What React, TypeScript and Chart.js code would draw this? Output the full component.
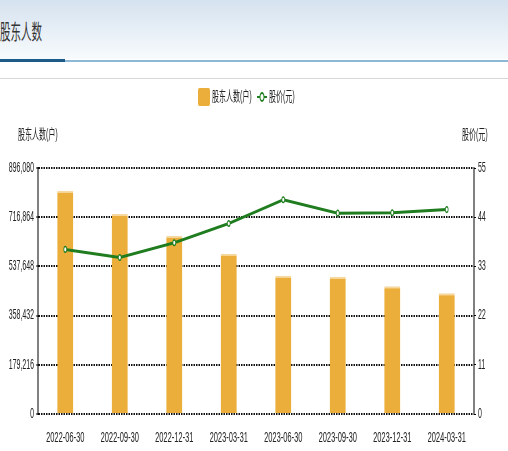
import React, { useEffect, useRef } from "react";
import { Chart, registerables } from "chart.js";

Chart.register(...registerables);

const categories = ["2022-06-30", "2022-09-30", "2022-12-31", "2023-03-31", "2023-06-30", "2023-09-30", "2023-12-31", "2024-03-31"];
const holders = [813400, 728500, 649500, 584000, 503800, 500000, 465200, 439600];
const prices = [36.8, 35.0, 38.3, 42.6, 47.9, 44.9, 45.0, 45.7];
const leftMax = 896080;
const leftStep = 179216;
const rightMax = 55;
const rightStep = 11;

const SX = 0.5;
const FONT = "'Liberation Sans', 'Noto Sans CJK SC', sans-serif";
const BAR = "#ecae3b";
const GREEN = "#1f7d1f";
const TEXT = "#222";

const overlay = {
  id: "overlay",
  afterDraw(chart: any) {
    const ctx = chart.ctx;
    ctx.save();
    ctx.font = "14px " + FONT;
    ctx.textBaseline = "middle";
    // legend
    ctx.fillStyle = BAR;
    ctx.beginPath();
    (ctx as any).roundRect(396, 8, 24, 18, 3);
    ctx.fill();
    ctx.fillStyle = TEXT;
    ctx.textAlign = "left";
    ctx.fillText("股东人数(户)", 424, 17);
    ctx.strokeStyle = GREEN;
    ctx.lineWidth = 2;
    ctx.beginPath();
    ctx.moveTo(514, 17);
    ctx.lineTo(534, 17);
    ctx.stroke();
    ctx.fillStyle = "#fff";
    ctx.beginPath();
    ctx.arc(524, 17, 4, 0, Math.PI * 2);
    ctx.fill();
    ctx.stroke();
    ctx.fillStyle = TEXT;
    ctx.fillText("股价(元)", 538, 17);
    // axis titles
    ctx.fillText("股东人数(户)", 36, 55);
    ctx.fillText("股价(元)", 924, 55);
    ctx.restore();
  },
};

export default function App() {
  const ref = useRef<HTMLCanvasElement | null>(null);
  useEffect(() => {
    if (!ref.current) return;
    const chart = new Chart(ref.current, {
      type: "bar",
      data: {
        labels: categories,
        datasets: [
          {
            type: "line",
            label: "股价(元)",
            data: prices,
            yAxisID: "y1",
            borderColor: GREEN,
            borderWidth: 3,
            backgroundColor: "#fff",
            pointRadius: 2.8,
            pointBorderWidth: 1.5,
            pointBorderColor: GREEN,
            pointBackgroundColor: "#fff",
            tension: 0,
            order: 0,
          } as any,
          {
            type: "bar",
            label: "股东人数(户)",
            data: holders,
            yAxisID: "y",
            backgroundColor: BAR,
            borderColor: "#f6d9a0",
            borderWidth: { top: 2, left: 0, right: 0, bottom: 0 },
            borderSkipped: false,
            barPercentage: 0.293,
            categoryPercentage: 1,
            order: 1,
          } as any,
        ],
      },
      options: {
        responsive: false,
        animation: false,
        layout: { padding: { top: 88, left: 0, right: 0, bottom: 0 } },
        plugins: { legend: { display: false }, tooltip: { enabled: false } },
        scales: {
          x: {
            grid: { display: false },
            border: { display: false },
            ticks: {
              autoSkip: false,
              maxRotation: 0,
              minRotation: 0,
              padding: 7,
              color: TEXT,
              font: { family: FONT, size: 15 },
            },
            afterFit(scale: any) {
              scale.height = 37;
            },
          },
          y: {
            position: "left",
            min: 0,
            max: leftMax,
            ticks: {
              stepSize: leftStep,
              padding: 4,
              color: TEXT,
              font: { family: FONT, size: 14 },
              callback: (v: any) => Number(v).toLocaleString("en-US"),
            },
            grid: {
              color: "#111",
              lineWidth: 2,
              tickLength: 4,
              tickColor: "#000",
              tickWidth: 1,
              tickBorderDash: [],
            },
            border: { display: true, color: "#000", width: 2, dash: [3, 2] },
            afterFit(scale: any) {
              scale.width = 76;
            },
          },
          y1: {
            position: "right",
            min: 0,
            max: rightMax,
            ticks: {
              stepSize: rightStep,
              padding: 4,
              color: TEXT,
              font: { family: FONT, size: 14 },
            },
            grid: {
              drawOnChartArea: false,
              tickLength: 4,
              tickColor: "#000",
              tickWidth: 1,
            },
            border: { display: true, color: "#000", width: 2 },
            afterFit(scale: any) {
              scale.width = 68;
            },
          },
        },
      },
      plugins: [overlay],
    });
    return () => chart.destroy();
  }, []);

  return (
    <div style={{ position: "fixed", left: 0, top: 0, width: 508, height: 451, overflow: "hidden", background: "#fff" }}>
      <div style={{ position: "absolute", left: 0, top: 0, width: 1016, height: 451, transform: `scaleX(${SX})`, transformOrigin: "0 0" }}>
        <div style={{ position: "absolute", left: 0, top: 0, width: 1016, height: 59, background: "linear-gradient(#d5e2ef, #f8fbfd)" }} />
        <div style={{ position: "absolute", left: 0, top: 16, height: 28, lineHeight: "28px", fontSize: 21, fontFamily: "'Noto Sans CJK SC', sans-serif", color: "#333" }}>股东人数</div>
        <div style={{ position: "absolute", left: 0, top: 59, width: 130, height: 3, background: "#1c5a8a" }} />
        <div style={{ position: "absolute", left: 130, top: 60, width: 886, height: 2, background: "#8cb7d6" }} />
        <div style={{ position: "absolute", left: 0, top: 78, width: 1016, height: 1, background: "#d6d6d6" }} />
        <canvas ref={ref} width={1016} height={371} style={{ position: "absolute", left: 0, top: 80, width: 1016, height: 371 }} />
      </div>
    </div>
  );
}
